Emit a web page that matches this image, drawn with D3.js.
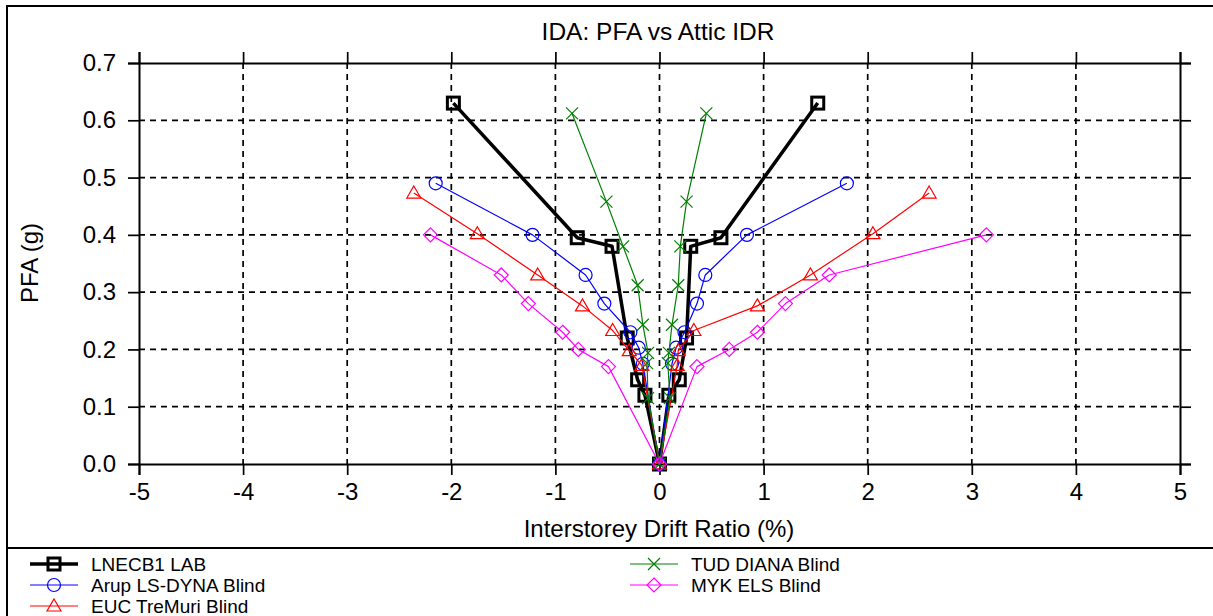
<!DOCTYPE html>
<html>
<head>
<meta charset="utf-8">
<script src="https://cdn.jsdelivr.net/npm/d3@7"></script>
<style>
  body { margin: 0; background: #fff; }
  text { font-family: "Liberation Sans", Arial, sans-serif; fill: #000; }
</style>
</head>
<body>
<svg id="chart" width="1213" height="616"></svg>
<script>
// series data, listed in drawing order (left branch -> origin -> right branch)
const seriesNames = ["LNECB1 LAB", "Arup LS-DYNA Blind", "EUC TreMuri Blind", "TUD DIANA Blind", "MYK ELS Blind"];

const lnecX = [-1.98, -0.79, -0.456, -0.31, -0.21, -0.14, 0, 0.09, 0.19, 0.26, 0.30, 0.59, 1.52];
const lnecY = [0.63, 0.395, 0.38, 0.22, 0.147, 0.12, 0, 0.12, 0.147, 0.22, 0.38, 0.395, 0.63];

const arupX = [-2.15, -1.22, -0.71, -0.53, -0.28, -0.2, -0.16, 0, 0.12, 0.16, 0.24, 0.36, 0.44, 0.84, 1.80];
const arupY = [0.49, 0.40, 0.33, 0.28, 0.23, 0.203, 0.175, 0, 0.175, 0.203, 0.23, 0.28, 0.33, 0.40, 0.49];

const eucX = [-2.36, -1.75, -1.17, -0.74, -0.45, -0.29, -0.17, 0, 0.17, 0.18, 0.33, 0.94, 1.45, 2.05, 2.59];
const eucY = [0.473, 0.402, 0.33, 0.276, 0.233, 0.198, 0.172, 0, 0.172, 0.198, 0.233, 0.276, 0.33, 0.402, 0.473];

const tudX = [-0.84, -0.51, -0.35, -0.21, -0.16, -0.11, -0.12, -0.11, 0, 0.10, 0.08, 0.09, 0.12, 0.18, 0.20, 0.26, 0.45];
const tudY = [0.612, 0.458, 0.38, 0.312, 0.243, 0.194, 0.176, 0.115, 0, 0.115, 0.176, 0.194, 0.243, 0.312, 0.38, 0.458, 0.612];

const mykX = [-2.2, -1.52, -1.26, -0.93, -0.78, -0.49, 0, 0.36, 0.67, 0.94, 1.21, 1.63, 3.14];
const mykY = [0.40, 0.33, 0.28, 0.23, 0.20, 0.17, 0, 0.17, 0.20, 0.23, 0.28, 0.33, 0.40];

const xTicks = [-5, -4, -3, -2, -1, 0, 1, 2, 3, 4, 5];
const yTicks = [0, 0.1, 0.2, 0.3, 0.4, 0.5, 0.6, 0.7];

const series = [
  { name: seriesNames[0], xs: lnecX, ys: lnecY, color: "#000000", marker: "square", width: 3.5 },
  { name: seriesNames[1], xs: arupX, ys: arupY, color: "#0000ff", marker: "circle", width: 1.2 },
  { name: seriesNames[2], xs: eucX, ys: eucY, color: "#ff0000", marker: "triangle", width: 1.2 },
  { name: seriesNames[3], xs: tudX, ys: tudY, color: "#008000", marker: "cross", width: 1.2 },
  { name: seriesNames[4], xs: mykX, ys: mykY, color: "#ff00ff", marker: "diamond", width: 1.2 }
];

const svg = d3.select("#chart");
const margin = { left: 139, top: 63, right: 1180, bottom: 464 };

const x = d3.scaleLinear().domain([-5, 5]).range([margin.left, margin.right]);
const y = d3.scaleLinear().domain([0, 0.7]).range([margin.bottom, margin.top]);

// outer frame
svg.append("path")
  .attr("d", "M7,616 L7,6 L1213,6")
  .attr("fill", "none").attr("stroke", "#000").attr("stroke-width", 2);
svg.append("line")
  .attr("x1", 7).attr("x2", 1213).attr("y1", 548).attr("y2", 548)
  .attr("stroke", "#000").attr("stroke-width", 2);

// title
svg.append("text")
  .attr("x", 658).attr("y", 40)
  .attr("text-anchor", "middle")
  .attr("font-size", 24.5)
  .text("IDA: PFA vs Attic IDR");

// grid
const grid = svg.append("g").attr("stroke", "#000").attr("stroke-width", 1.7).attr("stroke-dasharray", "6,5");
grid.selectAll(".gx")
  .data(xTicks.slice(1, -1))
  .enter().append("line")
  .attr("x1", d => x(d)).attr("x2", d => x(d))
  .attr("y1", margin.top).attr("y2", margin.bottom);
grid.selectAll(".gy")
  .data(yTicks.slice(1, -1))
  .enter().append("line")
  .attr("x1", margin.left).attr("x2", margin.right)
  .attr("y1", d => y(d)).attr("y2", d => y(d));

// axes on all four sides, ticks pointing out
const tickLen = 11;
svg.append("g")
  .attr("transform", `translate(0,${margin.bottom})`)
  .call(d3.axisBottom(x).tickValues(xTicks).tickSize(tickLen).tickPadding(8).tickFormat(d => String(d)));
svg.append("g")
  .attr("transform", `translate(0,${margin.top})`)
  .call(d3.axisTop(x).tickValues(xTicks).tickSize(tickLen).tickFormat(""));
svg.append("g")
  .attr("transform", `translate(${margin.left},0)`)
  .call(d3.axisLeft(y).tickValues(yTicks).tickSize(tickLen).tickPadding(12).tickFormat(d3.format(".1f")));
svg.append("g")
  .attr("transform", `translate(${margin.right},0)`)
  .call(d3.axisRight(y).tickValues(yTicks).tickSize(tickLen).tickFormat(""));

svg.selectAll(".domain").attr("stroke", "#000").attr("stroke-width", 2);
svg.selectAll(".tick line").attr("stroke", "#000").attr("stroke-width", 1.7);
svg.selectAll(".tick text").attr("font-size", 24).attr("font-family", "'Liberation Sans', Arial, sans-serif").attr("fill", "#000");

// axis titles
svg.append("text")
  .attr("x", 659).attr("y", 537)
  .attr("text-anchor", "middle")
  .attr("font-size", 24)
  .text("Interstorey Drift Ratio (%)");
svg.append("text")
  .attr("transform", "translate(38,263) rotate(-90)")
  .attr("text-anchor", "middle")
  .attr("font-size", 24)
  .text("PFA (g)");

// marker drawing
function drawMarker(g, type, color, px, py, sw) {
  if (type === "square") {
    g.append("rect").attr("x", px - 6).attr("y", py - 6).attr("width", 12).attr("height", 12)
      .attr("fill", "none").attr("stroke", color).attr("stroke-width", 3);
  } else if (type === "circle") {
    g.append("circle").attr("cx", px).attr("cy", py).attr("r", 6.5)
      .attr("fill", "none").attr("stroke", color).attr("stroke-width", sw);
  } else if (type === "triangle") {
    g.append("path").attr("d", `M${px},${py - 7} L${px + 7},${py + 5} L${px - 7},${py + 5} Z`)
      .attr("fill", "none").attr("stroke", color).attr("stroke-width", sw);
  } else if (type === "diamond") {
    g.append("path").attr("d", `M${px},${py - 7} L${px + 7},${py} L${px},${py + 7} L${px - 7},${py} Z`)
      .attr("fill", "none").attr("stroke", color).attr("stroke-width", sw);
  } else if (type === "cross") {
    g.append("path").attr("d", `M${px - 6},${py - 6} L${px + 6},${py + 6} M${px - 6},${py + 6} L${px + 6},${py - 6}`)
      .attr("fill", "none").attr("stroke", color).attr("stroke-width", sw);
  }
}

const line = d3.line().x(d => x(d[0])).y(d => y(d[1]));
const plot = svg.append("g");

series.forEach(s => {
  const pts = s.xs.map((v, i) => [v, s.ys[i]]);
  plot.append("path")
    .datum(pts)
    .attr("d", line)
    .attr("fill", "none")
    .attr("stroke", s.color)
    .attr("stroke-width", s.width)
    .attr("stroke-linejoin", "round");
  const mg = plot.append("g");
  pts.forEach(p => drawMarker(mg, s.marker, s.color, x(p[0]), y(p[1]), 1.2));
});

// legend
const legendPos = [
  { lx: 30, ly: 564 }, { lx: 30, ly: 585 }, { lx: 30, ly: 606 },
  { lx: 630, ly: 564 }, { lx: 630, ly: 585 }
];
const legend = svg.append("g");
series.forEach((s, i) => {
  const p = legendPos[i];
  legend.append("line")
    .attr("x1", p.lx).attr("x2", p.lx + 48)
    .attr("y1", p.ly).attr("y2", p.ly)
    .attr("stroke", s.color).attr("stroke-width", s.width);
  drawMarker(legend, s.marker, s.color, p.lx + 24, p.ly, 1.2);
  legend.append("text")
    .attr("x", p.lx + 61).attr("y", p.ly + 7)
    .attr("font-size", 19)
    .text(s.name);
});
</script>
</body>
</html>
